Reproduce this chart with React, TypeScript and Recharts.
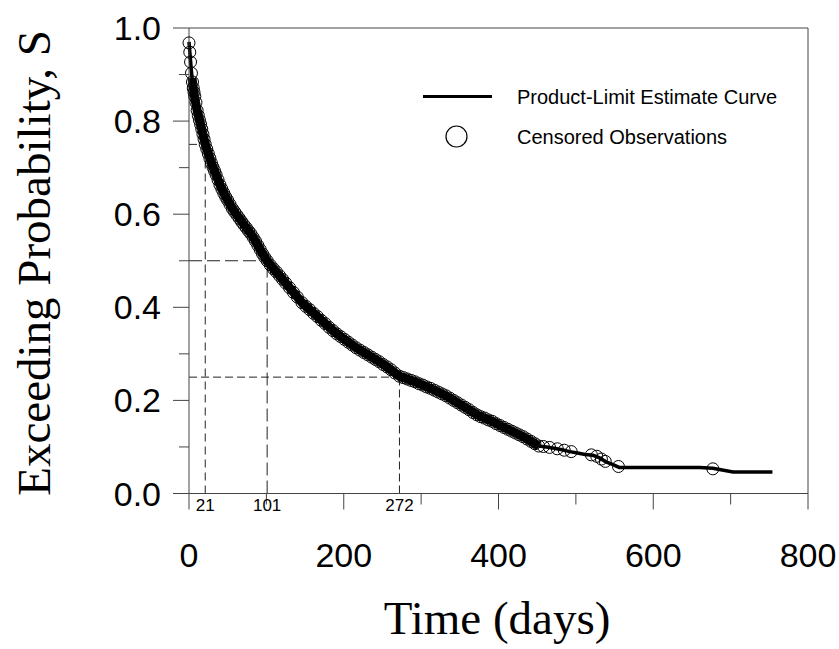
import { ComposedChart, Line, Scatter, XAxis, YAxis, ReferenceLine, Legend } from 'recharts';

// Kaplan-Meier (product-limit) curve
const curveDays = [
  0, 1, 2, 3, 4, 5, 6, 8, 10, 12, 15, 18, 21, 25, 30, 35, 40, 45, 50, 55,
  61, 67, 73, 79, 85, 90, 95, 101, 108, 116, 125, 135, 146, 156, 166, 176, 186, 196, 206, 216,
  226, 236, 246, 256, 266, 272, 282, 292, 302, 312, 322, 332, 342, 352, 362, 372, 382, 392, 402, 412,
  422, 432, 442, 452, 462, 472, 482, 492, 502, 512, 522, 530, 539, 548, 556, 620, 660, 677, 703, 754,
];
const curveSurv = [
  0.97, 0.95, 0.93, 0.91, 0.892, 0.877, 0.865, 0.845, 0.827, 0.812, 0.793, 0.772, 0.75, 0.73, 0.705, 0.685, 0.663, 0.645, 0.63, 0.615,
  0.6, 0.587, 0.573, 0.56, 0.545, 0.53, 0.515, 0.5, 0.485, 0.47, 0.452, 0.432, 0.41, 0.395, 0.38, 0.365, 0.35, 0.337, 0.325, 0.313,
  0.303, 0.293, 0.283, 0.272, 0.259, 0.252, 0.246, 0.24, 0.233, 0.226, 0.218, 0.21, 0.2, 0.19, 0.18, 0.169, 0.162, 0.155, 0.146, 0.138,
  0.13, 0.122, 0.112, 0.102, 0.1, 0.097, 0.094, 0.09, 0.087, 0.084, 0.082, 0.077, 0.068, 0.062, 0.056, 0.056, 0.056, 0.054, 0.046, 0.046,
];

// censored observations (circles)
const censorDays = [
  0, 1, 2, 3.2, 4.5, 5.5, 6.5, 7.5, 9, 10.5, 12, 13.5, 15, 16.5, 18, 19.5, 21, 23, 25, 27,
  29, 31, 33, 35, 37.5, 40, 42.5, 45, 47.5, 50, 53, 56, 59, 62, 65, 68, 71, 74, 77, 80,
  83, 86, 89, 92, 95, 98, 101, 105, 109, 113, 117, 121, 125, 130, 135, 140, 146, 151, 156, 161,
  166, 171, 176, 181, 186, 191, 196, 201, 206, 211, 216, 221, 226, 231, 236, 241, 246, 251, 256, 261,
  266, 272, 277, 282, 287, 292, 297, 302, 307, 312, 317, 322, 327, 332, 337, 342, 347, 352, 357, 362,
  367, 372, 377, 382, 387, 392, 397, 402, 407, 412, 417, 422, 427, 432, 437, 442, 447, 452, 458, 466,
  476, 485, 494, 520, 527, 533, 538, 555, 677,
];
const censorSurv = [
  0.968, 0.948, 0.927, 0.903, 0.884, 0.871, 0.862, 0.853, 0.84, 0.823, 0.812, 0.802, 0.793, 0.783, 0.772, 0.761, 0.75, 0.74, 0.73, 0.72,
  0.71, 0.701, 0.693, 0.685, 0.674, 0.663, 0.654, 0.645, 0.637, 0.63, 0.621, 0.612, 0.605, 0.598, 0.591, 0.584, 0.577, 0.571, 0.564, 0.558,
  0.55, 0.542, 0.533, 0.524, 0.515, 0.507, 0.5, 0.491, 0.483, 0.476, 0.468, 0.46, 0.452, 0.442, 0.432, 0.422, 0.41, 0.402, 0.395, 0.387,
  0.38, 0.372, 0.365, 0.357, 0.35, 0.343, 0.337, 0.331, 0.325, 0.319, 0.313, 0.308, 0.303, 0.298, 0.293, 0.288, 0.283, 0.277, 0.272, 0.266,
  0.259, 0.252, 0.249, 0.246, 0.243, 0.24, 0.236, 0.233, 0.229, 0.226, 0.222, 0.218, 0.214, 0.21, 0.205, 0.2, 0.195, 0.19, 0.185, 0.18,
  0.174, 0.169, 0.165, 0.162, 0.158, 0.155, 0.15, 0.146, 0.142, 0.138, 0.134, 0.13, 0.126, 0.122, 0.117, 0.112, 0.107, 0.102, 0.101, 0.099,
  0.096, 0.093, 0.09, 0.083, 0.08, 0.074, 0.069, 0.058, 0.053,
];

// quartile read-offs (S = 0.75, 0.5, 0.25)
const markDays = [21, 101, 272];
const markSurv = [0.75, 0.5, 0.25];

const xTicks = [0, 100, 200, 300, 400, 500, 600, 700, 800];
const yTicks = [0, 0.1, 0.2, 0.3, 0.4, 0.5, 0.6, 0.7, 0.8, 0.9, 1.0];

const curveName = 'Product-Limit Estimate Curve';
const censorName = 'Censored Observations';

const curve = curveDays.map((t, i) => ({ t, s: curveSurv[i] }));
const censored = censorDays.map((t, i) => ({ t, s: censorSurv[i] }));
// where the circles pile up they read as a solid band
const band = curve.filter((d) => d.t >= 4 && d.t <= 455);

const W = 831;
const H = 641;
const sans = '"Liberation Sans", Arial, sans-serif';
const serif = '"Liberation Serif", "Times New Roman", serif';
const axisColor = '#444';

function XTick(props: any) {
  const { x, y, payload } = props;
  const v = payload.value;
  if (markDays.includes(v)) {
    return (
      <text x={x} y={y + 17} textAnchor="middle" fontSize={17} fontFamily={sans} fill="#000">
        {v}
      </text>
    );
  }
  const major = v % 200 === 0;
  return (
    <g>
      <line x1={x} y1={y} x2={x} y2={y + (major ? 16 : 11)} stroke={axisColor} />
      {major && (
        <text x={x} y={y + 73} textAnchor="middle" fontSize={34} fontFamily={sans} fill="#000">
          {v}
        </text>
      )}
    </g>
  );
}

function YTick(props: any) {
  const { x, y, payload } = props;
  const v = payload.value;
  const major = Math.round(v * 10) % 2 === 0;
  return (
    <g>
      <line x1={x - (major ? 16 : 10)} y1={y} x2={x} y2={y} stroke={axisColor} />
      {major && (
        <text x={x - 28} y={y + 12} textAnchor="end" fontSize={34} fontFamily={sans} fill="#000">
          {v.toFixed(1)}
        </text>
      )}
    </g>
  );
}

function Ring(props: any) {
  return <circle cx={props.cx} cy={props.cy} r={6} fill="none" stroke="#000" strokeWidth={1} />;
}

function LegendBox() {
  return (
    <svg width={W} height={160} style={{ display: 'block' }}>
      <line x1={415} y1={88.5} x2={484} y2={88.5} stroke="#000" strokeWidth={3} />
      <text x={509} y={96} fontSize={20} fontFamily={sans} fill="#000">{curveName}</text>
      <circle cx={448.5} cy={128.5} r={10.5} fill="none" stroke="#000" strokeWidth={1.2} />
      <text x={509} y={136} fontSize={20} fontFamily={sans} fill="#000">{censorName}</text>
    </svg>
  );
}

export default function App() {
  const allXTicks = [...xTicks, ...markDays].sort((a, b) => a - b);
  const dashes = ['8 5', '13 5', '8 4'];
  return (
    <div style={{ position: 'absolute', left: 8, top: 8, width: W, height: H, background: '#fff' }}>
      <ComposedChart width={W} height={H} margin={{ top: 20, right: 31, bottom: 0, left: 0 }}>
        <XAxis
          type="number"
          dataKey="t"
          domain={[0, 800]}
          ticks={allXTicks}
          interval={0}
          tickSize={0}
          tickMargin={0}
          tick={XTick}
          height={155.5}
          axisLine={{ stroke: axisColor }}
          label={() => (
            <text x={489} y={626} textAnchor="middle" fontSize={47} fontFamily={serif} fill="#000">
              Time (days)
            </text>
          )}
        />
        <YAxis
          type="number"
          dataKey="s"
          domain={[0, 1]}
          ticks={yTicks}
          interval={0}
          tickSize={0}
          tickMargin={0}
          tick={YTick}
          width={181}
          axisLine={{ stroke: axisColor }}
          label={() => (
            <text
              x={42}
              y={255}
              textAnchor="middle"
              fontSize={47}
              fontFamily={serif}
              fill="#000"
              transform="rotate(-90 42 255)"
            >
              Exceeding Probability, S
            </text>
          )}
        />
        <ReferenceLine y={1} stroke={axisColor} />
        <ReferenceLine x={800} stroke={axisColor} />
        {markDays.map((d, i) => (
          <ReferenceLine
            key={`h${d}`}
            segment={[{ x: 0, y: markSurv[i] }, { x: d, y: markSurv[i] }]}
            stroke="#222"
            strokeDasharray={dashes[i]}
          />
        ))}
        {markDays.map((d, i) => (
          <ReferenceLine
            key={`v${d}`}
            segment={[{ x: d, y: 0 }, { x: d, y: markSurv[i] }]}
            stroke="#222"
            strokeDasharray={dashes[i]}
          />
        ))}
        <Line
          data={band}
          dataKey="s"
          legendType="none"
          type="linear"
          stroke="#000"
          strokeWidth={9}
          dot={false}
          activeDot={false}
          isAnimationActive={false}
        />
        <Line
          data={curve}
          dataKey="s"
          name={curveName}
          type="linear"
          stroke="#000"
          strokeWidth={3.5}
          dot={false}
          activeDot={false}
          isAnimationActive={false}
        />
        <Scatter data={censored} dataKey="s" name={censorName} shape={Ring} isAnimationActive={false} />
        <Legend
          layout="vertical"
          align="center"
          verticalAlign="middle"
          wrapperStyle={{ left: 0, top: 0, width: W, height: 160, pointerEvents: 'none' }}
          content={() => <LegendBox />}
        />
      </ComposedChart>
    </div>
  );
}
